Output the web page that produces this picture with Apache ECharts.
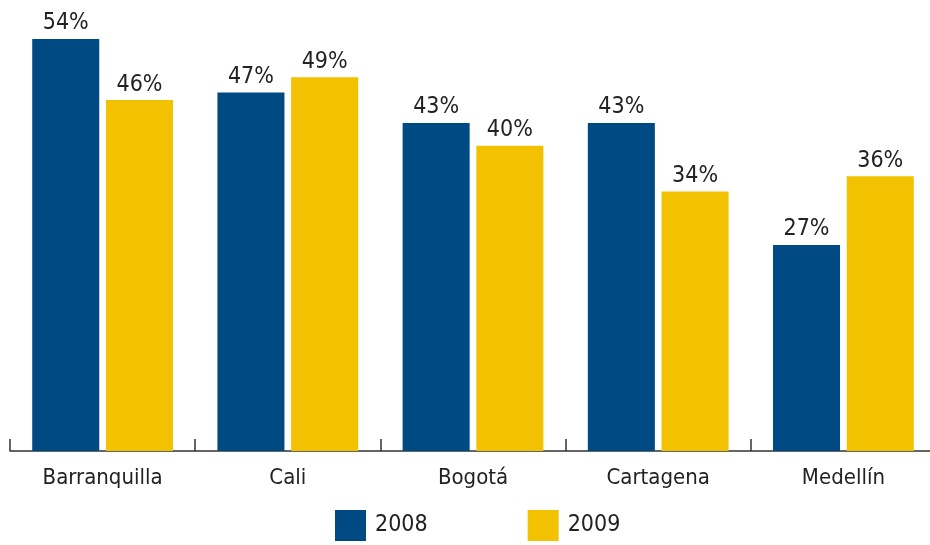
<!DOCTYPE html>
<html>
<head>
<meta charset="utf-8">
<script src="https://cdn.jsdelivr.net/npm/echarts@6/dist/echarts.min.js"></script>
<style>
  html, body { margin: 0; padding: 0; background: #fff; }
  #chart { width: 930px; height: 545px; }
</style>
</head>
<body>
<div id="chart"></div>
<script>
// datos
var ciudades = ['Barranquilla', 'Cali', 'Bogotá', 'Cartagena', 'Medellín']
var anios = ['2008', '2009']
var valores2008 = [54, 47, 43, 43, 27]
var valores2009 = [46, 49, 40, 34, 36]

var fuente = '"Liberation Sans Narrow", "DejaVu Sans Condensed", sans-serif'
var colores = ['#004a84', '#f2c200']

var myChart = echarts.init(document.getElementById('chart'))
myChart.setOption({
  animation: false,
  color: colores,
  textStyle: { fontFamily: fuente },
  legend: {
    data: anios,
    left: 335,
    top: 510,
    padding: 0,
    itemWidth: 31,
    itemHeight: 31,
    itemGap: 100,
    icon: 'rect',
    textStyle: { fontSize: 23, color: '#222', fontFamily: fuente, padding: [4, 0, 0, 4] }
  },
  grid: {
    left: 10,
    top: 39,
    width: 926,
    height: 412,
    outerBoundsMode: 'none',
    containLabel: false
  },
  xAxis: {
    type: 'category',
    data: ciudades,
    axisLine: { lineStyle: { color: '#333', width: 1.5 } },
    axisTick: { show: true, inside: true, length: 12, alignWithLabel: false, lineStyle: { color: '#333', width: 1.5 } },
    axisLabel: { fontSize: 22, color: '#222', margin: 16, fontFamily: fuente }
  },
  yAxis: {
    type: 'value',
    min: 0,
    max: 54,
    show: false,
    splitLine: { show: false }
  },
  series: [
    {
      name: anios[0],
      type: 'bar',
      data: valores2008,
      barGap: '10%',
      barCategoryGap: '24%',
      label: { show: true, position: 'top', formatter: '{c}%', fontSize: 23, color: '#222', distance: 4, fontFamily: fuente }
    },
    {
      name: anios[1],
      type: 'bar',
      data: valores2009,
      barGap: '10%',
      barCategoryGap: '24%',
      label: { show: true, position: 'top', formatter: '{c}%', fontSize: 23, color: '#222', distance: 4, fontFamily: fuente }
    }
  ]
})
</script>
</body>
</html>
